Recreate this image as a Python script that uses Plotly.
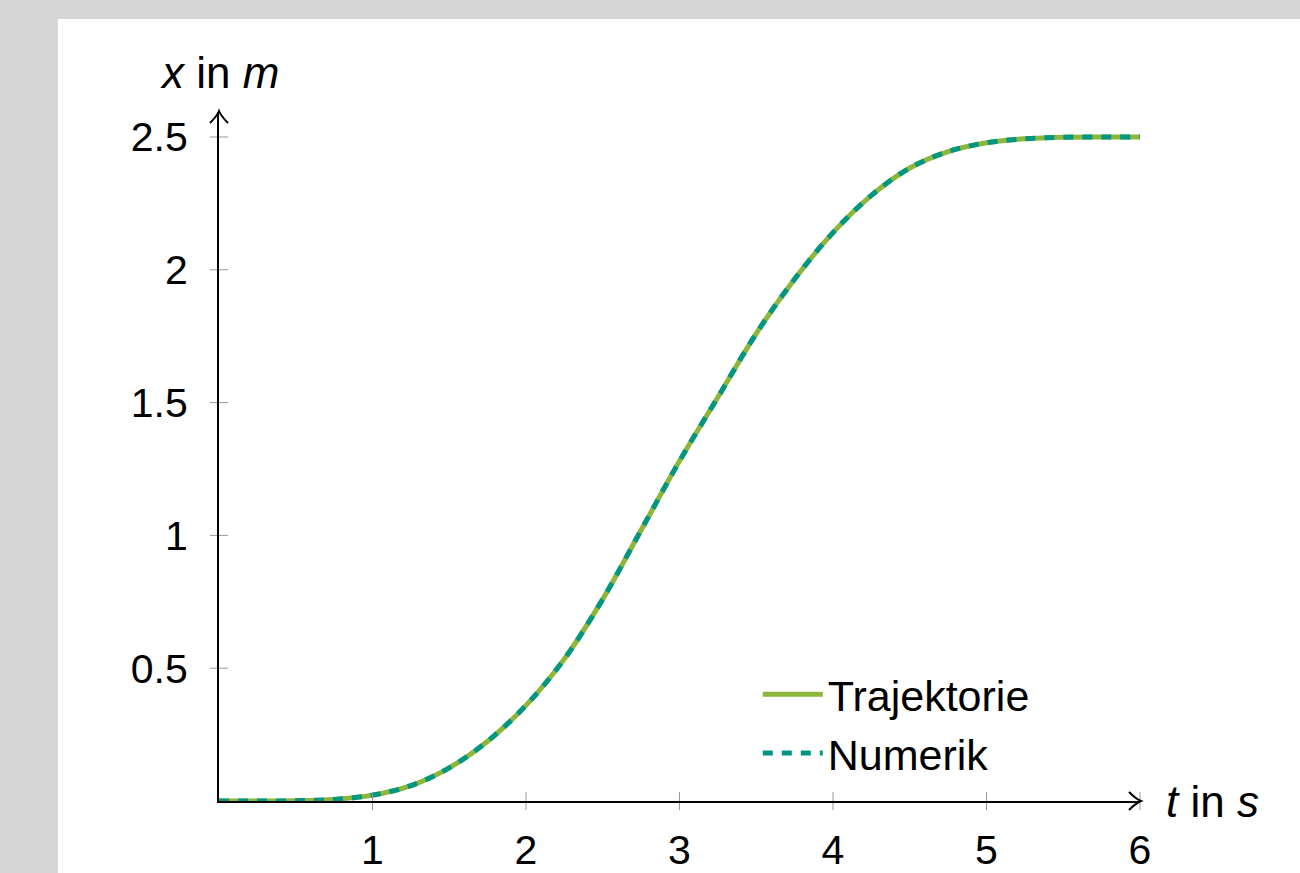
import plotly.graph_objects as go

# ---- data ----
t_values = [0.0, 0.25, 0.5, 0.75, 1.0, 1.25, 1.5, 1.75, 2.0, 2.25, 2.5, 2.75, 3.0,
            3.25, 3.5, 3.75, 4.0, 4.25, 4.5, 4.75, 5.0, 5.25, 5.5, 5.75, 6.0]
x_trajektorie = [0.0, 0.0, 0.001, 0.006, 0.022, 0.058, 0.125, 0.225, 0.36, 0.535, 0.76, 1.02, 1.28,
                 1.52, 1.76, 1.965, 2.14, 2.28, 2.383, 2.445, 2.478, 2.493, 2.499, 2.5, 2.5]
x_numerik = [0.0, 0.0, 0.001, 0.006, 0.022, 0.058, 0.125, 0.225, 0.36, 0.535, 0.76, 1.02, 1.28,
             1.52, 1.76, 1.965, 2.14, 2.28, 2.383, 2.445, 2.478, 2.493, 2.499, 2.5, 2.5]
x_tickvals = [1, 2, 3, 4, 5, 6]
x_ticktext = ["1", "2", "3", "4", "5", "6"]
y_tickvals = [0.5, 1.0, 1.5, 2.0, 2.5]
y_ticktext = ["0.5", "1", "1.5", "2", "2.5"]
series_names = ["Trajektorie", "Numerik"]

FONT = "Liberation Sans, Arial, Helvetica, sans-serif"
GREEN = "#8CB63C"
TEAL = "#009682"
X_MAX = 6.0
Y_MAX = 2.594

fig = go.Figure()
fig.add_trace(go.Scatter(x=t_values, y=x_trajektorie, name=series_names[0], mode="lines",
                         line=dict(color=GREEN, width=5, shape="spline", smoothing=1.0),
                         cliponaxis=False))
fig.add_trace(go.Scatter(x=t_values, y=x_numerik, name=series_names[1], mode="lines",
                         line=dict(color=TEAL, width=5, dash="10px,9px", shape="spline", smoothing=1.0),
                         cliponaxis=False))

# tick marks crossing the axes
fig.add_trace(go.Scatter(x=x_tickvals, y=[0] * len(x_tickvals), mode="markers", showlegend=False,
                         hoverinfo="skip", cliponaxis=False,
                         marker=dict(symbol="line-ns", size=13, line=dict(width=1, color="#9a9a9a"))))
fig.add_trace(go.Scatter(x=[0] * len(y_tickvals), y=y_tickvals, mode="markers", showlegend=False,
                         hoverinfo="skip", cliponaxis=False,
                         marker=dict(symbol="line-ew", size=13, line=dict(width=1, color="#9a9a9a"))))

# white panel over grey page
fig.add_shape(type="rect", xref="paper", yref="paper", x0=-0.175, x1=1.2, y0=-0.2, y1=1.135,
              fillcolor="white", line=dict(width=0), layer="below")

# arrow heads (pixel-sized, anchored at the axis ends; paper refs so they are not clipped)
fig.add_shape(type="path", xref="paper", yref="paper", xsizemode="pixel", ysizemode="pixel",
              xanchor=1, yanchor=0, path="M-11,9 Q-4,2 1,0 Q-4,-2 -11,-9",
              line=dict(color="black", width=2), fillcolor="rgba(0,0,0,0)")
fig.add_shape(type="path", xref="paper", yref="paper", xsizemode="pixel", ysizemode="pixel",
              xanchor=0, yanchor=1, path="M-9,-11 Q-2,-4 0,1 Q2,-4 9,-11",
              line=dict(color="black", width=2), fillcolor="rgba(0,0,0,0)")

# axis titles
fig.add_annotation(x=0, y=Y_MAX, xref="x", yref="y", text="<i>x</i> in <i>m</i>", showarrow=False,
                   yshift=40, font=dict(family=FONT, size=44, color="black"))
fig.add_annotation(x=X_MAX, y=0, xref="x", yref="y", text="<i>t</i> in <i>s</i>", showarrow=False,
                   xanchor="left", xshift=24, yshift=0, font=dict(family=FONT, size=44, color="black"))

fig.update_layout(
    width=1300, height=873,
    margin=dict(l=219, r=160, t=112, b=72, pad=0),
    paper_bgcolor="#d6d6d6",
    plot_bgcolor="white",
    font=dict(family=FONT, size=41, color="black"),
    xaxis=dict(range=[0, X_MAX], tickvals=x_tickvals, ticktext=x_ticktext, showgrid=False,
               zeroline=False, showline=True, linecolor="black", linewidth=2, ticks="",
               automargin=False, ticklabelstandoff=12, tickfont=dict(size=41)),
    yaxis=dict(range=[0, Y_MAX], tickvals=y_tickvals, ticktext=y_ticktext, showgrid=False,
               zeroline=False, showline=True, linecolor="black", linewidth=2, ticks="",
               automargin=False, ticklabelstandoff=21, tickfont=dict(size=41)),
    legend=dict(x=0.585, y=0.205, xanchor="left", yanchor="top", bgcolor="rgba(0,0,0,0)",
                font=dict(family=FONT, size=43), tracegroupgap=0, itemwidth=60),
    showlegend=True,
)

fig.write_html("out.html")
